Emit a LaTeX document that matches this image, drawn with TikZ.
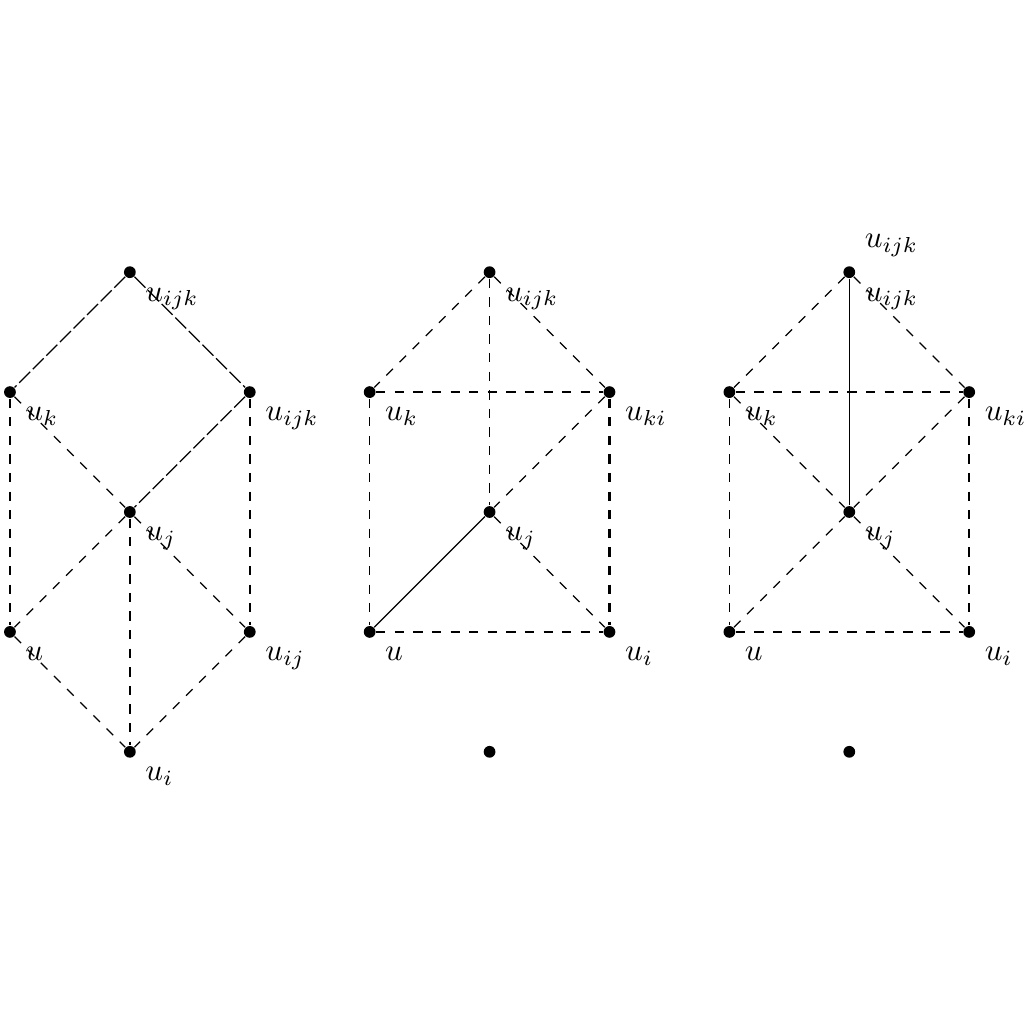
\documentclass[tikz,border=0pt]{standalone}
\usepackage{amsmath}
\usepackage{amssymb}
\usepackage{tikz}
\usetikzlibrary{arrows,positioning}

\tikzset{vert/.style={circle,fill,inner sep=0pt,minimum size=3.8pt},
  heavy/.style={thick,dashed},
  longdash/.style={dash pattern=on 5pt off 1.2pt}}

\begin{document}
\begin{tikzpicture}[x=1.36cm,y=1.36cm,thin]
	  \useasboundingbox (-0.083,-2.27) rectangle (8.45,6.27);
	  % first cube
	  \node[vert,label=below right:$u_i$]     (ai)  at (1,0) {};
	  \node[vert,label=below right:$u$]       (a)   at (0,1) {};
	  \node[vert,label=below right:$u_{ij}$]  (aij) at (2,1) {};
	  \node[vert,label=below right:$u_j$]     (aj)  at (1,2) {};
	  \node[vert,label=below right:$u_k$]     (ak)  at (0,3) {};
	  \node[vert,label=below right:$u_{ijk}$] (ar)  at (2,3) {};
	  \node[vert,label=below right:$u_{ijk}$] (at)  at (1,4) {};
	  \path
(at) edge[longdash] (ak)
(at) edge[longdash] (ar)
(ar) edge[longdash] (aj)
(ak) edge[dashed] (aj)
(ak) edge[dashed] (a)
(ar) edge[heavy]  (aij)
(aj) edge[dashed] (a)
(aj) edge[heavy]  (ai)
(aj) edge[dashed] (aij)
(a)  edge[dashed] (ai)
(aij) edge[dashed] (ai)
;
	  % second cube
	  \node[vert]                              (bo)  at (4,0) {};
	  \node[vert,label=below right:$u$]       (b)   at (3,1) {};
	  \node[vert,label=below right:$u_i$]     (bi)  at (5,1) {};
	  \node[vert,label=below right:$u_j$]     (bj)  at (4,2) {};
	  \node[vert,label=below right:$u_k$]     (bk)  at (3,3) {};
	  \node[vert,label=below right:$u_{ki}$]  (bki) at (5,3) {};
	  \node[vert,label=below right:$u_{ijk}$] (bt)  at (4,4) {};
	  \path
(bt) edge[dashed] (bk)
(bt) edge[dashed] (bki)
(bt) edge[dashed] (bj)
(bk) edge[dashed] (bki)
(bk) edge[dashed] (b)
(bki) edge[dashed] (bj)
(bki) edge[heavy] (bi)
(b)  edge         (bj)
(bj) edge[dashed] (bi)
(b)  edge[heavy]  (bi)
;
	  % third cube
	  \node[vert]                              (co)  at (7,0) {};
	  \node[vert,label=below right:$u$]       (c)   at (6,1) {};
	  \node[vert,label=below right:$u_i$]     (ci)  at (8,1) {};
	  \node[vert,label=below right:$u_j$]     (cj)  at (7,2) {};
	  \node[vert,label=below right:$u_k$]     (ck)  at (6,3) {};
	  \node[vert,label=below right:$u_{ki}$]  (cki) at (8,3) {};
	  \node[vert,label=below right:$u_{ijk}$,label=above right:$u_{ijk}$] (ct) at (7,4) {};
	  \path
(ct) edge[dashed] (ck)
(ct) edge[dashed] (cki)
(ct) edge         (cj)
(ck) edge[dashed] (cki)
(ck) edge[dashed] (cj)
(ck) edge[dashed] (c)
(cki) edge[dashed] (cj)
(cki) edge[heavy] (ci)
(c)  edge[dashed] (cj)
(cj) edge[dashed] (ci)
(c)  edge[heavy]  (ci)
;
	\end{tikzpicture}
\end{document}
